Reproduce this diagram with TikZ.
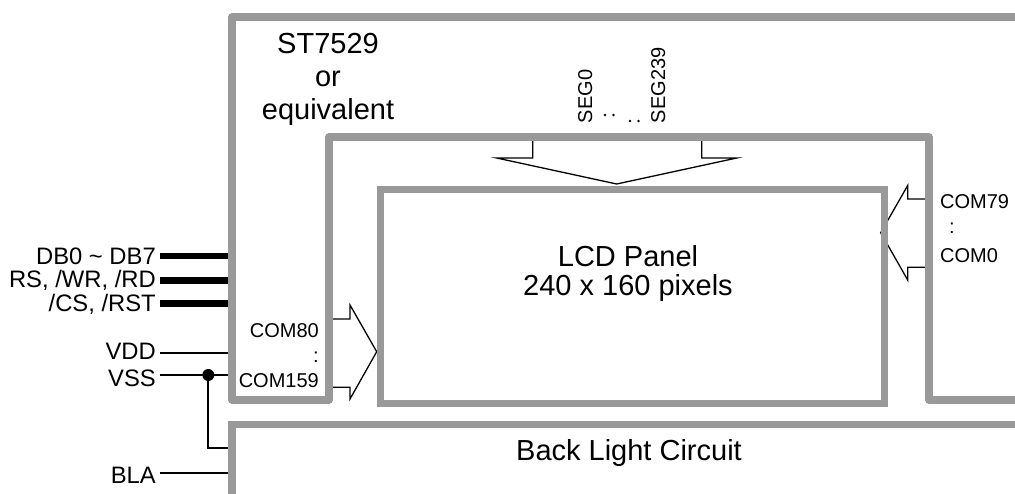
\documentclass[tikz,border=0pt]{standalone}
\usepackage{fontspec}
\setmainfont{Liberation Sans}
\definecolor{fgray}{RGB}{153,153,153}
\begin{document}
\begin{tikzpicture}[x=1pt,y=-1pt,
  frame/.style={draw=fgray, line width=7.3pt},
  wire/.style={draw=black, line width=2pt},
  bus/.style={draw=black, line width=6.7pt},
  blk/.style={draw=black, line width=1.3pt},
  big/.style={font=\fontsize{29}{33}\selectfont, inner sep=0pt},
  pin/.style={font=\fontsize{23.8}{28}\selectfont, inner sep=0pt},
  small/.style={font=\fontsize{20}{24}\selectfont, inner sep=0pt}]
\useasboundingbox (0,0) rectangle (1015,493);
\clip (0,0) rectangle (1015,493);

% block arrows (drawn below the frames)
\draw[blk] (532.7,137) -- (532.7,158) -- (496.7,158) -- (616.7,184) -- (736.7,158) -- (701.7,158) -- (701.7,137);
\draw[blk] (929,199) -- (907.7,199) -- (907.7,185.5) -- (880.7,232.7) -- (907.7,280) -- (907.7,267.3) -- (929,267.3);
\draw[blk] (329,319) -- (350,319) -- (350,305) -- (376.7,351.7) -- (350,399) -- (350,387.3) -- (329,387.3);

% frame entry points
\coordinate (pDB) at (232,256);
\coordinate (pRS) at (232,280.5);
\coordinate (pCS) at (232,303.5);
\coordinate (pVDD) at (232,352.7);
\coordinate (pVSS) at (232,375);
\coordinate (pBLK) at (232,448.3);
\coordinate (pBLA) at (232,473.3);
\coordinate (jn) at (208.3,375);

% pin labels
\node[pin, anchor=base east] (lDB) at (156,264) {DB0 \textasciitilde\ DB7};
\node[pin, anchor=base east] (lRS) at (156,287.3) {RS, /WR, /RD};
\node[pin, anchor=base east] (lCS) at (156,311.7) {/CS, /RST};
\node[pin, anchor=base east] (lVDD) at (156,359.3) {VDD};
\node[pin, anchor=base east] (lVSS) at (156,386) {VSS};
\node[pin, anchor=base east] (lBLA) at (156,483.3) {BLA};

% connectors
\draw[bus] ([xshift=4pt]lDB.east |- pDB) -- (pDB);
\draw[bus] ([xshift=4pt]lRS.east |- pRS) -- (pRS);
\draw[bus] ([xshift=4pt]lCS.east |- pCS) -- (pCS);
\draw[wire] ([xshift=4pt]lVDD.east |- pVDD) -- (pVDD);
\draw[wire] ([xshift=4pt]lVSS.east |- pVSS) -- (pVSS);
\draw[wire] (jn) |- (pBLK);
\draw[wire] ([xshift=4pt]lBLA.east |- pBLA) -- (pBLA);
\fill (jn) circle (6pt);

% frames
\draw[frame, line join=round] (1030,17) -- (232,17) -- (232,400) -- (329,400) -- (329,137) -- (929,137) -- (929,400) -- (1030,400);
\node[frame, anchor=north west, minimum width=504pt, minimum height=214.5pt, inner sep=0pt] (lcd) at (377,185.5) {};
\draw[frame] (232,500) -- (232,424.5) -- (1030,424.5);

% texts
\node[big, anchor=base] (st1) at (328,53.3) {ST7529};
\node[big, anchor=base] (st2) at (328,86) {or};
\node[big, anchor=base] (st3) at (328,119) {equivalent};
\node[big, anchor=base] (lcd1) at (628,266.7) {LCD Panel};
\node[big, anchor=base] (lcd2) at (628,295) {240 x 160 pixels};
\node[big, anchor=base] (bl) at (629,460) {Back Light Circuit};

\node[small, anchor=base west] (c79) at (940,208) {COM79};
\node[small, anchor=base west] (cd1) at (949,233) {:};
\node[small, anchor=base west] (c0) at (940,262) {COM0};
\node[small, anchor=base east] (c80) at (319,337) {COM80};
\node[small, anchor=base east] (cd2) at (319,362) {:};
\node[small, anchor=base east] (c159) at (319,387) {COM159};

\node[small, rotate=90, anchor=base west] (s0) at (592,123.3) {SEG0};
\node[small, rotate=90, anchor=base west] (s239) at (665,123.3) {SEG239};
\foreach \p in {(605,115),(613.5,115),(630,121),(638.5,121)} \fill \p circle (1.3pt);
\end{tikzpicture}
\end{document}
